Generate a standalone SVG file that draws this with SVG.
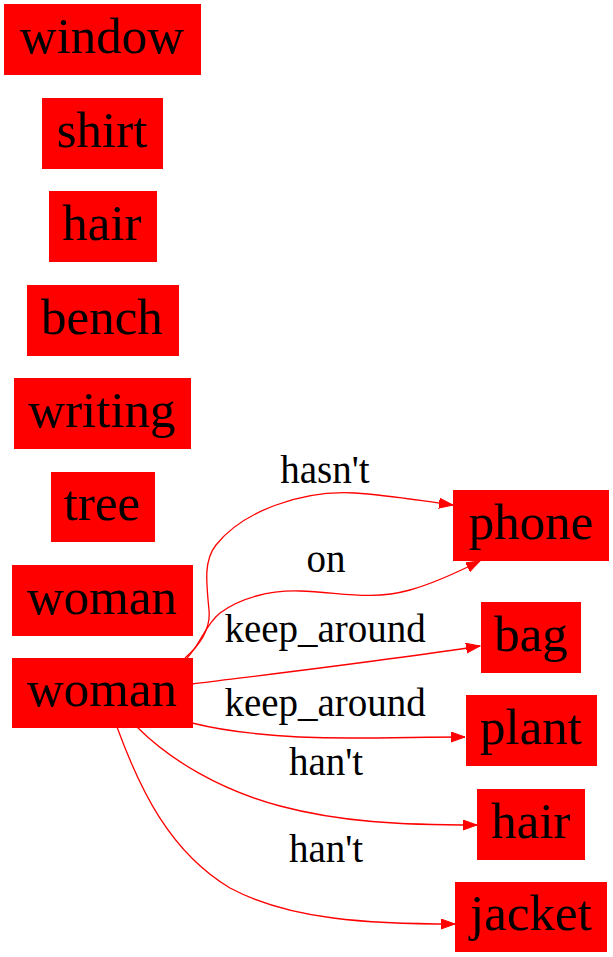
<svg xmlns="http://www.w3.org/2000/svg" width="613" height="957" viewBox="0 0 613 957">
<defs>
<marker id="ah" markerUnits="userSpaceOnUse" markerWidth="15" markerHeight="11" refX="14" refY="5" orient="auto">
<path d="M0,0 L14,5 L0,10 z" fill="#ff0000" stroke="#ff0000" stroke-width="1"/>
</marker>
</defs>
<g id="n_window"><rect x="4.5" y="4.5" width="196" height="70" fill="#ff0000" stroke="#ff0000"/><text x="19.8" y="53" font-family="Liberation Serif" font-size="51">window</text></g>
<g id="n_shirt"><rect x="42.5" y="98.5" width="120" height="70" fill="#ff0000" stroke="#ff0000"/><text x="56.7" y="147" font-family="Liberation Serif" font-size="51">shirt</text></g>
<g id="n_hair1"><rect x="49.5" y="191.5" width="107" height="70" fill="#ff0000" stroke="#ff0000"/><text x="62.3" y="240" font-family="Liberation Serif" font-size="51">hair</text></g>
<g id="n_bench"><rect x="27.5" y="285.5" width="151" height="70" fill="#ff0000" stroke="#ff0000"/><text x="41.1" y="334" font-family="Liberation Serif" font-size="51">bench</text></g>
<g id="n_writing"><rect x="14.5" y="378.5" width="176" height="70" fill="#ff0000" stroke="#ff0000"/><text x="28.3" y="427" font-family="Liberation Serif" font-size="51">writing</text></g>
<g id="n_tree"><rect x="51.5" y="472.5" width="103" height="69" fill="#ff0000" stroke="#ff0000"/><text x="63.8" y="520" font-family="Liberation Serif" font-size="51">tree</text></g>
<g id="n_woman1"><rect x="12.5" y="565.5" width="180" height="70" fill="#ff0000" stroke="#ff0000"/><text x="26.9" y="614" font-family="Liberation Serif" font-size="51">woman</text></g>
<g id="n_woman2"><rect x="12.5" y="658.5" width="180" height="69" fill="#ff0000" stroke="#ff0000"/><text x="26.9" y="706" font-family="Liberation Serif" font-size="51">woman</text></g>
<g id="n_phone"><rect x="453.5" y="490.5" width="155" height="70" fill="#ff0000" stroke="#ff0000"/><text x="468.7" y="539" font-family="Liberation Serif" font-size="51">phone</text></g>
<g id="n_bag"><rect x="481.5" y="602.5" width="99" height="70" fill="#ff0000" stroke="#ff0000"/><text x="494.2" y="651" font-family="Liberation Serif" font-size="51">bag</text></g>
<g id="n_plant"><rect x="466.5" y="695.5" width="130" height="70" fill="#ff0000" stroke="#ff0000"/><text x="480" y="744" font-family="Liberation Serif" font-size="51">plant</text></g>
<g id="n_hair2"><rect x="477.5" y="789.5" width="107" height="70" fill="#ff0000" stroke="#ff0000"/><text x="491.3" y="838" font-family="Liberation Serif" font-size="51">hair</text></g>
<g id="n_jacket"><rect x="455.5" y="882.5" width="151" height="69" fill="#ff0000" stroke="#ff0000"/><text x="470.1" y="930" font-family="Liberation Serif" font-size="51">jacket</text></g>
<g id="edges">
<path d="M185,658 C200,645 211,630 209,610 C206,580 204,560 216,545 C242,512 300,490 355,493 C388,495 415,500 453,505" fill="none" stroke="#ff0000" stroke-width="1.3" marker-end="url(#ah)"/>
<path d="M187,658 C200,645 205,625 220,613 C240,598 270,590 300,591 C340,592 370,601 410,590 C435,583 458,572 480,561" fill="none" stroke="#ff0000" stroke-width="1.3" marker-end="url(#ah)"/>
<path d="M192,684 C280,673 390,660 480,646" fill="none" stroke="#ff0000" stroke-width="1.3" marker-end="url(#ah)"/>
<path d="M192,723 C240,735 300,738 350,738 C395,738 425,737 465,737" fill="none" stroke="#ff0000" stroke-width="1.3" marker-end="url(#ah)"/>
<path d="M137,727 C170,760 220,790 280,806 C340,822 400,825 477,825" fill="none" stroke="#ff0000" stroke-width="1.3" marker-end="url(#ah)"/>
<path d="M117,727 C140,790 170,852 230,888 C290,920 370,924 455,924" fill="none" stroke="#ff0000" stroke-width="1.3" marker-end="url(#ah)"/>
<text x="280.3" y="483" font-family="Liberation Serif" font-size="39">hasn't</text>
<text x="306.5" y="572" font-family="Liberation Serif" font-size="39">on</text>
<text x="224.4" y="642" font-family="Liberation Serif" font-size="39">keep_around</text>
<text x="224.4" y="716" font-family="Liberation Serif" font-size="39">keep_around</text>
<text x="288.9" y="775" font-family="Liberation Serif" font-size="39">han't</text>
<text x="288.9" y="862" font-family="Liberation Serif" font-size="39">han't</text>
</g>
</svg>
